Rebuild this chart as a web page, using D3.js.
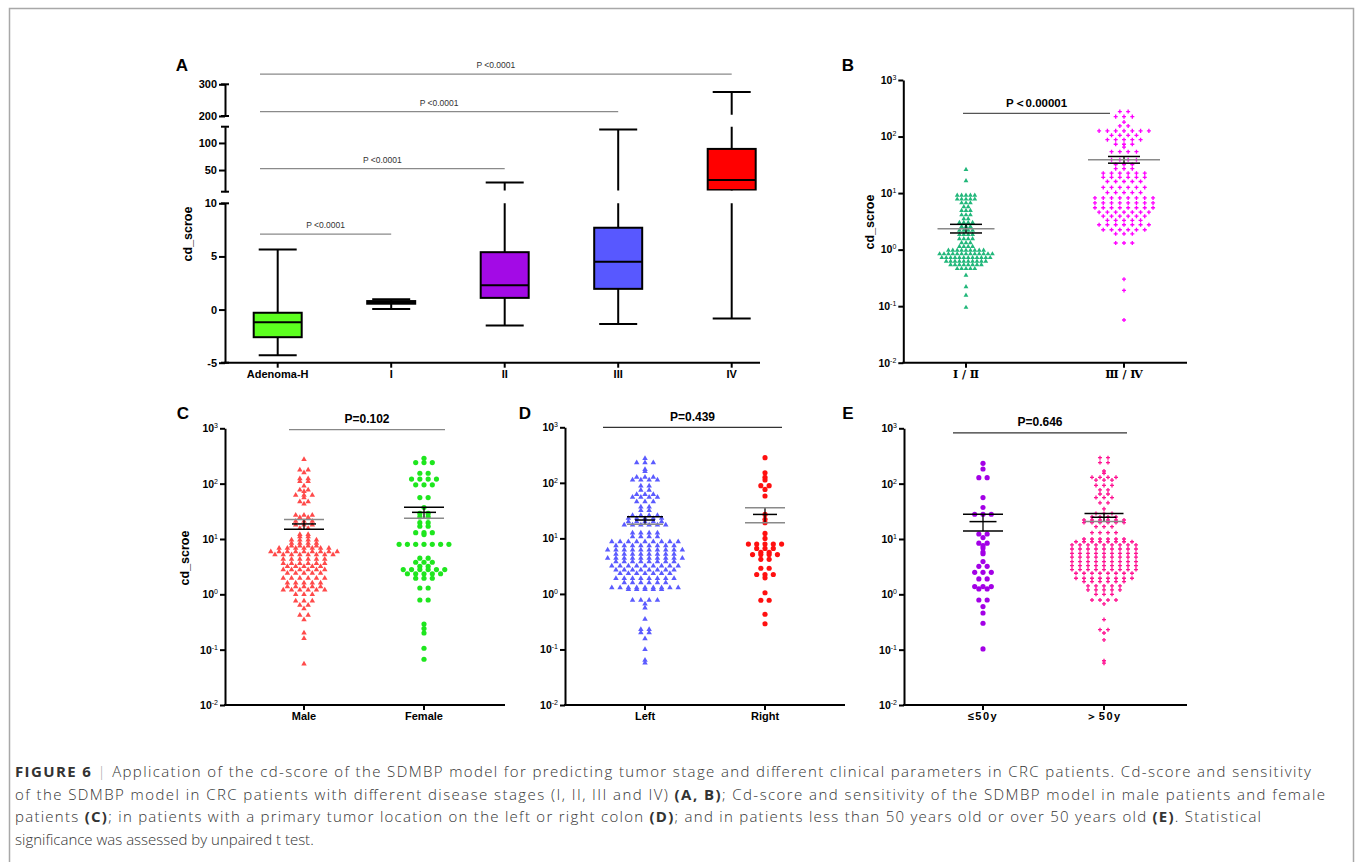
<!DOCTYPE html>
<html>
<head>
<meta charset="utf-8">
<script src="https://cdn.jsdelivr.net/npm/d3@7"></script>
<style>
  body { margin: 0; background: #fff; }
  svg text { font-family: "Liberation Sans", Arial, sans-serif; }
</style>
</head>
<body>
<svg id="fig" width="1355" height="862"></svg>
<script>
// ---------------- data ----------------
// panel A : box plots by stage
const stageCats = ["Adenoma-H", "I", "II", "III", "IV"];
const boxMin = [-4.3, 0.05, -1.5, -1.35, -0.85];
const boxQ1 = [-2.6, 0.55, 1.1, 1.95, 13];
const boxMedian = [-1.2, 0.7, 2.3, 4.5, 31.5];
const boxQ3 = [-0.3, 0.8, 5.4, 7.7, 89];
const boxMax = [5.65, 0.96, 27, 125, 276];
const segDomainsA = [[-5, 10], [10, 130], [200, 300]];
const segTicksA = [[-5, 0, 5, 10], [50, 100], [200, 300]];
const pTargetsA = ["I", "II", "III", "IV"];
const pLabelsA = ["P <0.0001", "P <0.0001", "P <0.0001", "P <0.0001"];
const pLevelsA = [7.1, 52.5, 213.6, 332];

// log axis ticks shared by B-E
const logTicks = [0.01, 0.1, 1, 10, 100, 1000];

// panel B : stage I/II vs III/IV
const stageGroups = ["Ⅰ / Ⅱ", "Ⅲ / Ⅳ"];
const stageEarly = [26, 16.5,
  9.1, 9.1, 9.1, 9.1, 9.1, 7.8, 7.8, 7.8, 7.8, 7.8, 6.7, 6.7, 6.7, 5.7, 5.7,
  4.9, 4.9, 4.9, 4.1, 4.1, 4.1, 3.5, 3.5, 3.0, 3.0, 3.0, 3.0, 2.55, 2.55, 2.55,
  2.2, 2.2, 2.2, 2.2, 1.85, 1.85, 1.85, 1.85, 1.55, 1.55, 1.55, 1.55, 1.32, 1.32, 1.32,
  1.13, 1.13, 1.13, 1.13,
  0.97, 0.97, 0.97, 0.97, 0.97, 0.97, 0.97, 0.97, 0.97,
  0.84, 0.84, 0.84, 0.84, 0.84, 0.84, 0.84, 0.84, 0.84, 0.84, 0.84, 0.84, 0.84,
  0.72, 0.72, 0.72, 0.72, 0.72, 0.72, 0.72, 0.72, 0.72, 0.72, 0.72, 0.72,
  0.62, 0.62, 0.62, 0.62, 0.62, 0.62, 0.62, 0.62, 0.62, 0.62,
  0.54, 0.54, 0.54, 0.54, 0.54, 0.54, 0.54, 0.54,
  0.46, 0.46, 0.46, 0.46, 0.46, 0.35, 0.22, 0.155, 0.095];
const stageLate = [276, 276, 225, 225, 225, 180, 154, 154,
  126, 126, 126, 126, 126, 126, 126, 105, 105, 105, 105, 88, 88, 88, 88, 88,
  73, 73, 73, 65, 54, 54, 54, 54, 39, 39, 39, 39, 32, 32, 32, 27, 27, 27,
  22.5, 22.5, 22.5, 22.5, 22.5, 22.5, 19, 19, 19, 19, 19, 19, 16, 16, 16, 16, 16,
  12.6, 12.6, 12.6, 12.6, 12.6, 12.6, 10.2, 10.2, 10.2, 10.2, 10.2,
  8.2, 8.2, 8.2, 8.2, 8.2, 8.2, 8.2, 8.2, 6.7, 6.7, 6.7, 6.7, 6.7, 6.7, 6.7, 6.7,
  5.5, 5.5, 5.5, 5.5, 5.5, 5.5, 5.5, 5.5, 4.6, 4.6, 4.6, 4.6, 4.6, 4.6, 4.6,
  3.9, 3.9, 3.9, 3.9, 3.9, 3.9, 3.3, 3.3, 3.3, 3.3, 3.3,
  2.75, 2.75, 2.75, 2.75, 2.75, 2.75, 2.75, 2.25, 2.25, 2.25, 2.25, 2.25, 2.25,
  1.9, 1.9, 1.9, 1.31, 1.31, 1.31, 0.3, 0.19, 0.057];
const errTopB = [2.8, 44.4], errMidB = [2.35, 38.7], errBotB = [1.97, 33.8];

// panel C : sex
const sexGroups = ["Male", "Female"];
const male = [275, 177, 177, 158, 123, 123, 110, 110, 91, 77, 77, 72, 62, 62, 62, 56,
  47, 47, 43, 27, 27, 27, 24.6, 24.6, 21, 21, 21, 18, 18, 18, 15.6, 15.6, 12.1, 12.1, 11, 11,
  9.6, 9.6, 9.6, 9.6, 8.4, 8.4, 8.4, 8.4, 7.5, 7.5, 7.5, 7.5, 6.8, 6.8, 6.8, 6.8, 6.8, 6.8, 6.8,
  5.9, 5.9, 5.9, 5.9, 5.9, 5.9, 5.9, 5.9, 5.9, 5.2, 5.2, 5.2, 5.2, 5.2, 5.2, 5.2, 5.2,
  4.3, 4.3, 4.3, 4.3, 4.3, 4.3, 3.6, 3.6, 3.6, 3.6, 3.6, 3.6, 3.2, 3.2, 3.2, 3.2, 3.2,
  2.8, 2.8, 2.8, 2.8, 2.8, 2.8, 2.4, 2.4, 2.4, 2.4, 2.4, 1.95, 1.95, 1.95, 1.95, 1.95, 1.95,
  1.6, 1.6, 1.6, 1.6, 1.6, 1.38, 1.38, 1.38, 1.38, 1.38, 1.2, 1.2, 1.2, 1.2, 1.2, 1.2,
  1.0, 1.0, 1.0, 0.76, 0.76, 0.76, 0.64, 0.64, 0.55, 0.42, 0.42, 0.35, 0.2, 0.16, 0.055];
const female = [287, 240, 240, 240, 154, 154, 121, 121, 121, 121, 95, 95, 95, 56, 56, 37,
  29, 29, 25, 25, 19.7, 19.7, 17, 17, 13, 13, 13, 12,
  8.0, 8.0, 8.0, 8.0, 8.0, 8.0, 8.0, 4.5, 4.5, 3.8, 3.8, 3.8, 3.2, 3.2,
  2.8, 2.8, 2.8, 2.8, 2.8, 2.8, 2.35, 2.35, 2.35, 2.35, 2.35, 1.95, 1.95, 1.95,
  1.3, 1.3, 0.79, 0.79, 0.29, 0.24, 0.2, 0.106, 0.067];
const errTopC = [22.6, 37.3], errMidC = [18.7, 30.3], errBotC = [15.0, 23.6];

// panel D : tumour side
const sideGroups = ["Left", "Right"];
const leftSide = [276, 231, 231, 231, 175, 160, 126, 126, 126, 113, 113, 113, 113, 88, 88,
  74, 74, 62, 62, 62, 55, 55, 55, 55, 46, 46, 46, 37, 37, 32, 32, 26, 26, 26, 26,
  23, 23, 23, 23, 23, 20, 20, 20, 20, 20, 17.4, 17.4, 17.4, 17.4, 17.4, 17.4,
  12.6, 12.6, 12.6, 12.6, 10.7, 10.7, 10.7, 10.7,
  8.7, 8.7, 8.7, 8.7, 8.7, 8.7, 8.7, 8.7, 8.7, 7.4, 7.4, 7.4, 7.4, 7.4, 7.4, 7.4, 7.4,
  6.2, 6.2, 6.2, 6.2, 6.2, 6.2, 6.2, 6.2, 6.2, 6.2, 5.2, 5.2, 5.2, 5.2, 5.2, 5.2, 5.2, 5.2,
  4.4, 4.4, 4.4, 4.4, 4.4, 4.4, 4.4, 4.4, 4.4, 4.4, 3.8, 3.8, 3.8, 3.8, 3.8, 3.8, 3.8, 3.8,
  3.2, 3.2, 3.2, 3.2, 3.2, 3.2, 3.2, 3.2, 3.2, 2.7, 2.7, 2.7, 2.7, 2.7, 2.7, 2.7, 2.7,
  2.35, 2.35, 2.35, 2.35, 2.35, 2.35, 2.35, 1.9, 1.9, 1.9, 1.9, 1.9, 1.9, 1.9, 1.9,
  1.6, 1.6, 1.6, 1.6, 1.6, 1.6, 1.3, 1.3, 1.3, 1.3, 1.3, 1.3, 1.3, 1.3, 1.3, 1.2, 1.2, 1.2, 1.2, 1.2,
  0.77, 0.77, 0.77, 0.77, 0.66, 0.56, 0.35, 0.23, 0.23, 0.2, 0.2, 0.156, 0.1, 0.064, 0.057];
const rightSide = [284, 152, 126, 113, 89, 89, 76, 58, 27, 22, 19.2, 12.3, 10,
  7.9, 7.9, 7.9, 7.9, 7.9, 6.6, 6.6, 6.6, 5.6, 5.6, 5.1, 5.1, 5.1, 5.1, 4.2, 4.2,
  2.9, 2.9, 2.24, 2.24, 2.24, 1.95, 1.05, 0.77, 0.77, 0.43, 0.29];
const errTopD = [24.5, 35.7], errMidD = [21.4, 27], errBotD = [17.9, 19.2];

// panel E : age
const ageGroups = ["≤50y", "＞50y"];
const young = [233, 184, 128, 128, 56, 37, 28, 28, 28, 12.3, 12.3, 10.6, 8.4, 8.4, 7.6,
  6.9, 5.8, 5.4, 3.9, 3.2, 3.2, 2.5, 2.5, 2.5, 1.9, 1.9, 1.38, 1.38, 1.38, 1.25, 1.25,
  0.79, 0.79, 0.6, 0.46, 0.3, 0.103];
const old = [295, 295, 240, 240, 169, 154, 130, 130, 130, 130, 116, 116, 116, 93, 93, 93,
  77, 77, 65, 65, 56, 56, 56, 45, 45, 35, 29, 29, 29, 25, 25, 25, 25,
  22, 22, 22, 22, 22, 22, 19.8, 19.8, 19.8, 19.8, 19.8, 19.8, 16.7, 16.7, 16.7, 13, 13, 13, 13,
  10, 10, 10, 10, 10, 10, 8.9, 8.9, 8.9, 8.9, 8.9, 8.9, 8.9, 8.9,
  7.8, 7.8, 7.8, 7.8, 7.8, 7.8, 7.8, 7.8, 7.8, 6.6, 6.6, 6.6, 6.6, 6.6, 6.6, 6.6, 6.6, 6.6,
  5.5, 5.5, 5.5, 5.5, 5.5, 5.5, 5.5, 5.5, 5.5, 4.7, 4.7, 4.7, 4.7, 4.7, 4.7, 4.7, 4.7, 4.7,
  3.9, 3.9, 3.9, 3.9, 3.9, 3.9, 3.9, 3.9, 3.9, 3.3, 3.3, 3.3, 3.3, 3.3, 3.3, 3.3, 3.3, 3.3,
  2.8, 2.8, 2.8, 2.8, 2.8, 2.8, 2.8, 2.8, 2.8, 2.4, 2.4, 2.4, 2.4, 2.4, 2.4, 2.4, 2.4,
  1.95, 1.95, 1.95, 1.95, 1.95, 1.95, 1.95, 1.95, 1.7, 1.7, 1.7, 1.7, 1.7, 1.7,
  1.42, 1.42, 1.42, 1.42, 1.42, 1.2, 1.2, 1.2, 1.2, 1.2, 1.0, 1.0, 1.0,
  0.79, 0.79, 0.79, 0.79, 0.67, 0.35, 0.23, 0.23, 0.2, 0.15, 0.063, 0.057];
const errTopE = [28, 29], errMidE = [20.6, 24.7], errBotE = [14, 20.6];

// ---------------- drawing ----------------
const svg = d3.select("#fig");
const defs = svg.append("defs");
const GRAY = "#8a8a8a";

// figure frame (open at the bottom)
svg.append("path")
  .attr("d", "M9.5,862 V8.5 H1353.5 V862")
  .attr("fill", "none").attr("stroke", "#a8a8a8").attr("stroke-width", 1.5);

function panelLetter(t, x, y) {
  svg.append("text").attr("x", x).attr("y", y).attr("text-anchor", "middle")
    .style("font-size", "17px").style("font-weight", "bold").text(t);
}

function yLabel(x, y) {
  svg.append("text").attr("transform", `translate(${x},${y}) rotate(-90)`)
    .attr("text-anchor", "middle").style("font-size", "12.5px").style("font-weight", "bold")
    .text("cd_scroe");
}

// ---------- panel A ----------
const A = { axisX: 225, xEnd: 760, ranges: [[362.7, 203.3], [191.7, 126.7], [116, 84.3]] };
const boxColors = ["#5cff1f", "#ffffff", "#a30ae6", "#5858ff", "#ff0000"];
const segScales = segDomainsA.map((d, i) => d3.scaleLinear().domain(d).range(A.ranges[i]));
const yA = v => segScales[v <= 10 ? 0 : v <= 150 ? 1 : 2](v);
const xA = d3.scalePoint().domain(stageCats).range([277.7, 731.7]);

const boxes = stageCats.map((c, i) => ({
  c, min: boxMin[i], q1: boxQ1[i], med: boxMedian[i], q3: boxQ3[i], max: boxMax[i], fill: boxColors[i]
}));

segScales.forEach((y, i) => {
  const r = A.ranges[i];
  // each axis piece only shows the part of the boxes inside its own range
  defs.append("clipPath").attr("id", "seg" + i)
    .append("rect").attr("x", A.axisX + 2).attr("y", r[1])
    .attr("width", A.xEnd - A.axisX).attr("height", r[0] - r[1] + (i === 0 ? 2 : -1.2));

  const g = svg.append("g").attr("clip-path", `url(#seg${i})`);
  const b = g.selectAll("g").data(boxes).join("g");
  b.append("line").attr("x1", d => xA(d.c)).attr("x2", d => xA(d.c))
    .attr("y1", d => y(d.min)).attr("y2", d => y(d.max))
    .attr("stroke", "#000").attr("stroke-width", 2);
  b.append("line").attr("x1", d => xA(d.c) - 19).attr("x2", d => xA(d.c) + 19)
    .attr("y1", d => y(d.min)).attr("y2", d => y(d.min))
    .attr("stroke", "#000").attr("stroke-width", 2);
  b.append("line").attr("x1", d => xA(d.c) - 19).attr("x2", d => xA(d.c) + 19)
    .attr("y1", d => y(d.max)).attr("y2", d => y(d.max))
    .attr("stroke", "#000").attr("stroke-width", 2);
  b.append("rect").attr("x", d => xA(d.c) - 24).attr("width", 48)
    .attr("y", d => y(d.q3)).attr("height", d => y(d.q1) - y(d.q3))
    .attr("fill", d => d.fill).attr("stroke", "#000").attr("stroke-width", 2);
  b.append("line").attr("x1", d => xA(d.c) - 24).attr("x2", d => xA(d.c) + 24)
    .attr("y1", d => y(d.med)).attr("y2", d => y(d.med))
    .attr("stroke", "#000").attr("stroke-width", 2);

  // axis piece
  const ax = svg.append("g").attr("transform", `translate(${A.axisX},0)`)
    .call(d3.axisLeft(y).tickValues(segTicksA[i]).tickSize(6).tickSizeOuter(0)
      .tickPadding(2).tickFormat(d => String(d)));
  ax.select(".domain").attr("stroke-width", 2);
  ax.selectAll(".tick line").attr("stroke-width", 2);
  ax.selectAll(".tick text").style("font-size", "11px").style("font-weight", "bold")
    .style("font-family", "Liberation Sans, Arial, sans-serif").attr("fill", "#000");
  // break caps
  r.forEach(yy => svg.append("line").attr("x1", A.axisX - 4).attr("x2", A.axisX + 4)
    .attr("y1", yy).attr("y2", yy).attr("stroke", "#000").attr("stroke-width", 2));
});

// x axis A
svg.append("line").attr("x1", A.axisX - 1).attr("x2", A.xEnd)
  .attr("y1", A.ranges[0][0]).attr("y2", A.ranges[0][0]).attr("stroke", "#000").attr("stroke-width", 2);
svg.selectAll("line.xa").data(stageCats).join("line")
  .attr("x1", d => xA(d)).attr("x2", d => xA(d))
  .attr("y1", A.ranges[0][0]).attr("y2", A.ranges[0][0] + 5)
  .attr("stroke", "#000").attr("stroke-width", 2);
svg.selectAll("text.xa").data(stageCats).join("text")
  .attr("x", d => xA(d)).attr("y", A.ranges[0][0] + 15).attr("text-anchor", "middle")
  .style("font-size", "11px").style("font-weight", "bold").text(d => d);

// significance brackets A
pTargetsA.forEach((t, i) => {
  const yy = yA(pLevelsA[i]);
  svg.append("line").attr("x1", 260).attr("x2", xA(t)).attr("y1", yy).attr("y2", yy)
    .attr("stroke", GRAY).attr("stroke-width", 1.3);
  svg.append("text").attr("x", (260 + xA(t)) / 2).attr("y", yy - 6).attr("text-anchor", "middle")
    .style("font-size", "8.5px").attr("fill", "#333").text(pLabelsA[i]);
});
panelLetter("A", 182, 71);
yLabel(192, 234);

// ---------- log scatter panels ----------
function drawLogPanel(p) {
  const y = d3.scaleLog().domain([0.01, 1000]).range([p.yBot, p.yTop]);
  const x = d3.scaleOrdinal().domain(p.cats).range(p.centers);

  const ax = svg.append("g").attr("transform", `translate(${p.axisX},0)`)
    .call(d3.axisLeft(y).tickValues(logTicks).tickSize(5).tickSizeOuter(0)
      .tickPadding(2).tickFormat(() => "10"));
  ax.select(".domain").attr("stroke-width", 2);
  ax.selectAll(".tick line").attr("stroke-width", 2);
  ax.selectAll(".tick text").attr("fill", "#000")
    .style("font-size", "10.5px").style("font-weight", "bold")
    .style("font-family", "Liberation Sans, Arial, sans-serif")
    .append("tspan").attr("dy", "-4").style("font-size", "7px").style("font-weight", "normal")
    .text(d => String(Math.round(Math.log10(d))));

  svg.append("line").attr("x1", p.axisX - 1).attr("x2", p.xEnd)
    .attr("y1", p.yBot).attr("y2", p.yBot).attr("stroke", "#000").attr("stroke-width", 2);

  p.cats.forEach((c, gi) => {
    const cx = x(c);
    svg.append("line").attr("x1", cx).attr("x2", cx).attr("y1", p.yBot).attr("y2", p.yBot + 5)
      .attr("stroke", "#000").attr("stroke-width", 2);
    svg.append("text").attr("x", cx).attr("y", p.yBot + 15).attr("text-anchor", "middle")
      .style("font-size", "11px").style("font-weight", "bold")
      .style("font-family", p.catFont).style("letter-spacing", p.catSpacing || "0px")
      .text(c);

    // points laid out in rows (GraphPad style scatter)
    const rows = d3.groups(p.groups[gi], v => Math.round(y(v) * 2) / 2);
    const pts = [];
    rows.forEach(([, vs]) => vs.forEach((v, k) =>
      pts.push([cx + (k - (vs.length - 1) / 2) * p.dx[gi], y(v)])));
    svg.append("g").selectAll("path").data(pts).join("path")
      .attr("transform", d => `translate(${d[0]},${d[1]})`)
      .attr("d", d3.symbol(p.shapes[gi], p.sizes[gi]))
      .attr("fill", p.colors[gi]);

    // mean / error lines
    const vals = [p.errTop[gi], p.errMid[gi], p.errBot[gi]];
    const st = p.errStyle[gi];
    svg.append("line").attr("x1", cx).attr("x2", cx)
      .attr("y1", y(vals[0])).attr("y2", y(vals[2])).attr("stroke", "#000").attr("stroke-width", 1.3);
    vals.forEach((v, i) => svg.append("line")
      .attr("x1", cx - st.w[i] / 2).attr("x2", cx + st.w[i] / 2)
      .attr("y1", y(v)).attr("y2", y(v))
      .attr("stroke", st.c[i]).attr("stroke-width", 1.5));
  });

  // significance bracket
  const py = y(p.pLevel);
  svg.append("line").attr("x1", p.pX[0]).attr("x2", p.pX[1]).attr("y1", py).attr("y2", py)
    .attr("stroke", p.pColor).attr("stroke-width", 1.3);
  svg.append("text").attr("x", (p.pX[0] + p.pX[1]) / 2).attr("y", py - 6.5)
    .attr("text-anchor", "middle").style("font-size", p.pSize).style("font-weight", "bold")
    .text(p.pText);

  panelLetter(p.letter, p.letterPos[0], p.letterPos[1]);
  if (p.ylab) yLabel(p.ylab[0], p.ylab[1]);
}

const SANS = "Liberation Sans, Arial, sans-serif";
const wideNarrow = (c) => ({ w: [40, 24, 40], c });

drawLogPanel({
  letter: "B", letterPos: [848, 71], axisX: 903.3, yTop: 80, yBot: 362.7, xEnd: 1187,
  cats: stageGroups, centers: [966, 1124], groups: [stageEarly, stageLate],
  shapes: [d3.symbolTriangle, d3.symbolCross], sizes: [10, 9], colors: ["#21b77a", "#ff00ff"],
  dx: [4.4, 8.3], errTop: errTopB, errMid: errMidB, errBot: errBotB,
  errStyle: [{ w: [32, 57, 32], c: ["#000", GRAY, "#000"] }, { w: [32, 72, 32], c: ["#000", GRAY, "#000"] }],
  pLevel: 257, pX: [963, 1110], pColor: "#555", pText: "P＜0.00001", pSize: "11.5px",
  catFont: "DejaVu Serif, Noto Sans CJK SC, serif", ylab: [874, 222]
});
drawLogPanel({
  letter: "C", letterPos: [183, 419], axisX: 225, yTop: 428.3, yBot: 705, xEnd: 505,
  cats: sexGroups, centers: [304, 424], groups: [male, female],
  shapes: [d3.symbolTriangle, d3.symbolCircle], sizes: [13, 21], colors: ["#ff4a4a", "#1ee61e"],
  dx: [8.3, 8.3], errTop: errTopC, errMid: errMidC, errBot: errBotC,
  errStyle: [wideNarrow([GRAY, "#000", "#000"]), wideNarrow(["#000", "#000", GRAY])],
  pLevel: 950, pX: [289, 445], pColor: "#888", pText: "P=0.102", pSize: "12px",
  catFont: SANS, ylab: [189, 558]
});
drawLogPanel({
  letter: "D", letterPos: [525, 419], axisX: 565, yTop: 427.3, yBot: 705, xEnd: 845,
  cats: sideGroups, centers: [645, 765], groups: [leftSide, rightSide],
  shapes: [d3.symbolTriangle, d3.symbolCircle], sizes: [13, 21], colors: ["#5b5bff", "#ff1010"],
  dx: [8.3, 8.3], errTop: errTopD, errMid: errMidD, errBot: errBotD,
  errStyle: [{ w: [36, 20, 36], c: ["#000", "#000", GRAY] }, wideNarrow([GRAY, "#000", GRAY])],
  pLevel: 1000, pX: [603, 782], pColor: "#333", pText: "P=0.439", pSize: "12px",
  catFont: SANS
});
drawLogPanel({
  letter: "E", letterPos: [848, 419], axisX: 904, yTop: 428.3, yBot: 705, xEnd: 1187,
  cats: ageGroups, centers: [983, 1104], groups: [young, old],
  shapes: [d3.symbolCircle, d3.symbolCross], sizes: [21, 9], colors: ["#a300e6", "#ff1493"],
  dx: [8.3, 8.0], errTop: errTopE, errMid: errMidE, errBot: errBotE,
  errStyle: [{ w: [40, 27, 40], c: ["#000", "#000", "#000"] }, { w: [39, 25, 39], c: ["#000", "#000", GRAY] }],
  pLevel: 830, pX: [953, 1127], pColor: "#333", pText: "P=0.646", pSize: "12px",
  catFont: SANS, catSpacing: "1.5px"
});

// ---------- caption ----------
const captionLines = [
  { len: 1296, parts: [["FIGURE 6", 1], [" | ", 2], ["Application of the cd-score of the SDMBP model for predicting tumor stage and different clinical parameters in CRC patients. Cd-score and sensitivity", 0]] },
  { len: 1310, parts: [["of the SDMBP model in CRC patients with different disease stages (I, II, III and IV) ", 0], ["(A, B)", 1], ["; Cd-score and sensitivity of the SDMBP model in male patients and female", 0]] },
  { len: 1246, parts: [["patients ", 0], ["(C)", 1], ["; in patients with a primary tumor location on the left or right colon ", 0], ["(D)", 1], ["; and in patients less than 50 years old or over 50 years old ", 0], ["(E)", 1], [". Statistical", 0]] },
  { len: null, parts: [["significance was assessed by unpaired t test.", 0]] }
];
captionLines.forEach((ln, i) => {
  const t = svg.append("text").attr("x", 15).attr("y", 777 + i * 22.5)
    .style("font-family", "'Open Sans', 'Liberation Sans', sans-serif")
    .style("font-size", "15px").attr("fill", "#333");
  if (ln.len) t.attr("textLength", ln.len).attr("lengthAdjust", "spacing");
  ln.parts.forEach(([s, k]) => t.append("tspan").text(s)
    .style("font-weight", k === 1 ? "bold" : "300")
    .attr("fill", k === 2 ? "#aaa" : "#333"));
});
</script>
</body>
</html>
